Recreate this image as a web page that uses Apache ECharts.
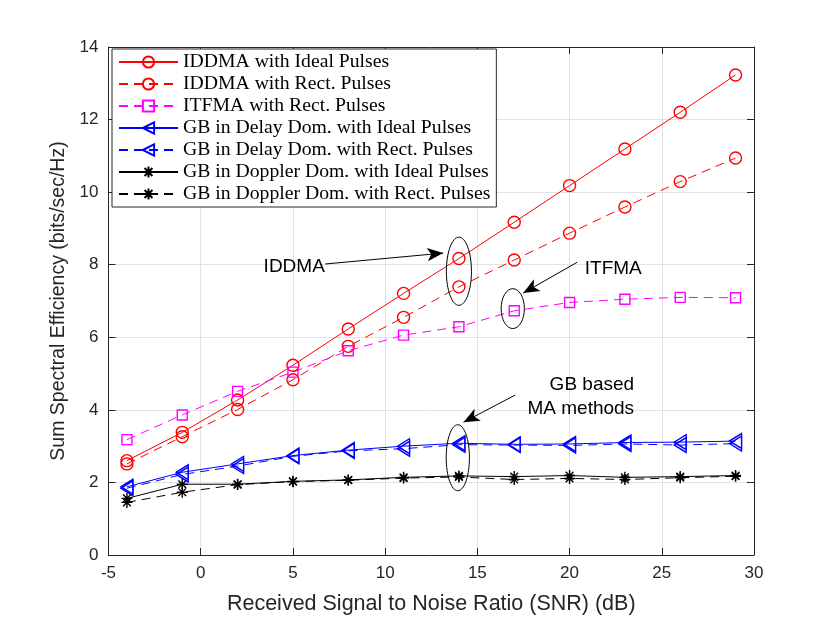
<!DOCTYPE html>
<html>
<head>
<meta charset="utf-8">
<script src="https://cdn.jsdelivr.net/npm/echarts@6/dist/echarts.min.js"></script>
<style>
html,body{margin:0;padding:0;background:#fff;}
#chart{width:830px;height:623px;}
</style>
</head>
<body>
<div id="chart"></div>
<script>
const snr = [-4, -1, 2, 5, 8, 11, 14, 17, 20, 23, 26, 29];
const iddmaIdeal = [2.60, 3.38, 4.27, 5.23, 6.23, 7.21, 8.17, 9.17, 10.18, 11.19, 12.20, 13.23];
const iddmaRect = [2.51, 3.26, 4.01, 4.83, 5.75, 6.55, 7.39, 8.13, 8.87, 9.59, 10.29, 10.94];
const itfmaRect = [3.18, 3.86, 4.51, 5.04, 5.63, 6.06, 6.29, 6.73, 6.96, 7.05, 7.10, 7.09];
const gbDelayIdeal = [1.88, 2.28, 2.51, 2.74, 2.89, 3.00, 3.08, 3.05, 3.06, 3.10, 3.11, 3.14];
const gbDelayRect = [1.84, 2.22, 2.45, 2.72, 2.87, 2.93, 3.04, 3.03, 3.02, 3.06, 3.03, 3.07];
const gbDopplerIdeal = [1.56, 1.95, 1.95, 2.03, 2.07, 2.14, 2.18, 2.16, 2.19, 2.14, 2.16, 2.19];
const gbDopplerRect = [1.45, 1.73, 1.94, 2.02, 2.06, 2.12, 2.15, 2.08, 2.11, 2.08, 2.13, 2.17];
const seriesNames = [
  'IDDMA with Ideal Pulses',
  'IDDMA with Rect. Pulses',
  'ITFMA with Rect. Pulses',
  'GB in Delay Dom. with Ideal Pulses',
  'GB in Delay Dom. with Rect. Pulses',
  'GB in Doppler Dom. with Ideal Pulses',
  'GB in Doppler Dom. with Rect. Pulses'
];
const xLabel = 'Received Signal to Noise Ratio (SNR) (dB)';
const yLabel = 'Sum Spectral Efficiency (bits/sec/Hz)';

// annotations (data coordinates)
const annotTexts = [
  {text: 'IDDMA', at: [5.07, 7.93], align: 'center'},
  {text: 'ITFMA', at: [22.37, 7.88], align: 'center'},
  {text: 'GB based\nMA methods', at: [23.5, 4.35], align: 'right'}
];
const annotEllipses = [
  {c: [14, 7.82], r: [0.68, 0.94]},
  {c: [16.92, 6.79], r: [0.63, 0.55]},
  {c: [13.94, 2.68], r: [0.63, 0.91]}
];
const annotArrows = [
  {from: [6.75, 8.02], to: [13.15, 8.32]},
  {from: [20.42, 8.07], to: [17.49, 7.22]},
  {from: [17.06, 4.41], to: [14.25, 3.66]}
];

const pair = (ys) => snr.map((x, i) => [x, ys[i]]);
const dash = [9, 6];
const starPath = 'path://M10 0 L10 20 M0 10 L20 10 M3 3 L17 17 M3 17 L17 3';

function mk(name, ys, color, lineType, symbol, size, rotate) {
  return {
    name: name, type: 'line', data: pair(ys),
    symbol: symbol, symbolSize: size, symbolRotate: rotate || 0,
    showAllSymbol: true,
    lineStyle: {color: color, width: 1, type: lineType},
    itemStyle: {color: 'rgba(0,0,0,0)', borderColor: color, borderWidth: 1.4},
    emphasis: {disabled: true},
    animation: false, z: 3
  };
}

const axisColor = '#262626';
const sansFont = 'Liberation Sans, Arial, Helvetica, sans-serif';
const chart = echarts.init(document.getElementById('chart'), null, {renderer: 'canvas'});

const option = {
  backgroundColor: '#fff',
  animation: false,
  grid: {left: 108.5, right: 76, top: 47, bottom: 68, containLabel: false},
  xAxis: [
    {type: 'value', min: -5, max: 30, interval: 5, position: 'bottom',
     name: xLabel, nameLocation: 'middle', nameGap: 38,
     nameTextStyle: {fontFamily: sansFont, fontSize: 21.5, color: axisColor},
     axisLine: {onZero: false, lineStyle: {color: axisColor, width: 1}},
     axisTick: {inside: true, length: 7, lineStyle: {color: axisColor}},
     axisLabel: {color: axisColor, fontFamily: sansFont, fontSize: 17, margin: 10},
     splitLine: {show: true, lineStyle: {color: '#e2e2e2', width: 1}}},
    {type: 'value', min: -5, max: 30, interval: 5, position: 'top',
     axisLine: {onZero: false, lineStyle: {color: axisColor, width: 1}},
     axisTick: {inside: true, length: 7, lineStyle: {color: axisColor}},
     axisLabel: {show: false}, splitLine: {show: false}}
  ],
  yAxis: [
    {type: 'value', min: 0, max: 14, interval: 2, position: 'left',
     name: yLabel, nameLocation: 'middle', nameGap: 38, nameRotate: 90,
     nameTextStyle: {fontFamily: sansFont, fontSize: 19.5, color: axisColor},
     axisLine: {onZero: false, lineStyle: {color: axisColor, width: 1}},
     axisTick: {inside: true, length: 7, lineStyle: {color: axisColor}},
     axisLabel: {color: axisColor, fontFamily: sansFont, fontSize: 17, margin: 10},
     splitLine: {show: true, lineStyle: {color: '#e2e2e2', width: 1}}},
    {type: 'value', min: 0, max: 14, interval: 2, position: 'right',
     axisLine: {onZero: false, lineStyle: {color: axisColor, width: 1}},
     axisTick: {inside: true, length: 7, lineStyle: {color: axisColor}},
     axisLabel: {show: false}, splitLine: {show: false}}
  ],
  legend: {
    data: seriesNames,
    orient: 'vertical', left: 112, top: 49,
    backgroundColor: '#fff', borderColor: axisColor, borderWidth: 1,
    padding: [3, 6, 3, 6], itemWidth: 59, itemHeight: 14, itemGap: 2,
    selectedMode: false,
    textStyle: {fontFamily: 'Liberation Serif, Times New Roman, serif', fontSize: 19.7, color: '#000', lineHeight: 20}
  },
  series: [
    mk(seriesNames[0], iddmaIdeal, '#ff0000', 'solid', 'circle', 12),
    mk(seriesNames[1], iddmaRect, '#ff0000', dash, 'circle', 12),
    mk(seriesNames[2], itfmaRect, '#ff00ff', dash, 'rect', 10),
    mk(seriesNames[3], gbDelayIdeal, '#0000ff', 'solid', 'triangle', [15, 12], 90),
    mk(seriesNames[4], gbDelayRect, '#0000ff', dash, 'triangle', [15, 12], 90),
    mk(seriesNames[5], gbDopplerIdeal, '#000000', 'solid', starPath, 11),
    mk(seriesNames[6], gbDopplerRect, '#000000', dash, starPath, 11),
    {
      name: 'annotations', type: 'line', data: [], silent: true,
      markLine: {
        silent: true, animation: false,
        symbol: ['none', 'arrow'], symbolSize: [10, 16],
        lineStyle: {color: '#000', width: 1, type: 'solid'},
        label: {show: false},
        data: annotArrows.map(a => [{coord: a.from}, {coord: a.to}])
      }
    }
  ]
};
chart.setOption(option);

const toPx = (p) => chart.convertToPixel({xAxisIndex: 0, yAxisIndex: 0}, p);
const graphics = [];
annotEllipses.forEach(e => {
  const c = toPx(e.c);
  const edge = toPx([e.c[0] + e.r[0], e.c[1] + e.r[1]]);
  graphics.push({type: 'ellipse', silent: true, z: 10,
    shape: {cx: c[0], cy: c[1], rx: Math.abs(edge[0] - c[0]), ry: Math.abs(edge[1] - c[1])},
    style: {fill: 'none', stroke: '#000', lineWidth: 1}});
});
annotTexts.forEach(t => {
  const p = toPx(t.at);
  graphics.push({type: 'text', silent: true, z: 10, x: p[0], y: p[1],
    style: {text: t.text, fontFamily: sansFont, fontSize: 19, fill: '#000',
            align: t.align, verticalAlign: 'middle', lineHeight: 24}});
});
chart.setOption({graphic: graphics});
</script>
</body>
</html>
